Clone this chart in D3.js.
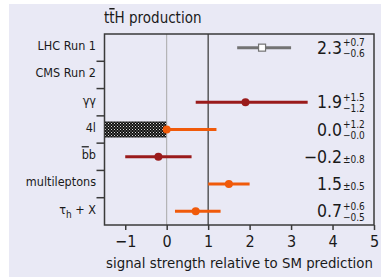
<html>
<head>
  <title>ttH production</title>
  <script src="https://d3js.org/d3.v7.min.js"></script>
  <style>
    body { margin: 0; background: white; }
    text { font-family: "DejaVu Sans Condensed", "DejaVu Sans", sans-serif; font-stretch: condensed; fill: #1a1a1a; }
    .ovl { text-decoration: overline; }
  </style>
</head>
<body>
  <svg id="screen"></svg>
  <script>
    // categories down the y axis
    const categories = ['LHC Run 1', 'CMS Run 2', 'γγ', '4l', 'bb', 'multileptons', 'τh + X']
    // measured signal strength and asymmetric errors (null = header row)
    const values   = [2.3, null, 1.9, 0.0, -0.2, 1.5, 0.7]
    const errUp    = [0.7, null, 1.5, 1.2, 0.8, 0.5, 0.6]
    const errDown  = [0.6, null, 1.2, 0.0, 0.8, 0.5, 0.5]
    const kinds    = ['run1', 'none', 'red', 'orange', 'red', 'orange', 'orange']
    // labels printed on the right
    const mainLabels = ['2.3', '', '1.9', '0.0', '−0.2', '1.5', '0.7']
    const upLabels   = ['+0.7', '', '+1.5', '+1.2', '', '', '+0.6']
    const downLabels = ['−0.6', '', '−1.2', '−0.0', '', '', '−0.5']
    const symLabels  = ['', '', '', '', '±0.8', '±0.5', '']
    // excluded (hatched) region for the 4l channel
    const hatchRange = [-1.5, 0]
    const xTicks = [-1, 0, 1, 2, 3, 4, 5]

    const colors = {run1: '#737373', red: '#9a1b1b', orange: '#f05a0a'}

    const svg = d3.select('#screen').attr('width', 381).attr('height', 277)
    svg.append('rect').attr('x', 9).attr('y', 4).attr('width', 372).attr('height', 273)
       .attr('fill', '#e9e9f5')

    const x = d3.scaleLinear().domain([-1.5, 5]).range([104.5, 374])
    const y = d3.scaleBand().domain(categories).range([34, 225])
    const yc = d => y(d) + y.bandwidth() / 2

    // hatch pattern
    const pat = svg.append('defs').append('pattern').attr('id', 'hatch')
       .attr('patternUnits', 'userSpaceOnUse').attr('width', 3).attr('height', 3)
    pat.append('rect').attr('width', 3).attr('height', 3).attr('fill', '#111')
    pat.append('rect').attr('x', 0).attr('y', 0).attr('width', 1).attr('height', 1).attr('fill', '#ddd')
    pat.append('rect').attr('x', 1.5).attr('y', 1.5).attr('width', 1).attr('height', 1).attr('fill', '#bbb')

    svg.append('rect')
       .attr('x', x(hatchRange[0])).attr('width', x(hatchRange[1]) - x(hatchRange[0]))
       .attr('y', yc('4l') - 8).attr('height', 16)
       .attr('fill', 'url(#hatch)')

    // reference lines
    svg.append('line').attr('x1', x(0)).attr('x2', x(0)).attr('y1', 34).attr('y2', 225)
       .attr('stroke', '#a8a8a8').attr('stroke-width', 1)
    svg.append('line').attr('x1', x(1)).attr('x2', x(1)).attr('y1', 34).attr('y2', 225)
       .attr('stroke', '#333').attr('stroke-width', 1.2)

    // frame
    svg.append('rect').attr('x', 104.5).attr('y', 34).attr('width', 269.5).attr('height', 191)
       .attr('fill', 'none').attr('stroke', '#3a3a3a').attr('stroke-width', 1.5)

    // category separator ticks
    svg.selectAll('.sep').data(categories.slice(1)).enter().append('line')
       .attr('x1', 96.5).attr('x2', 104.5)
       .attr('y1', d => y(d)).attr('y2', d => y(d))
       .attr('stroke', '#3a3a3a').attr('stroke-width', 1.5)

    // x axis
    const xAxis = svg.append('g').attr('transform', 'translate(0,225)')
       .call(d3.axisBottom(x).tickValues(xTicks).tickFormat(d3.format('d')).tickSize(5).tickSizeOuter(0))
    xAxis.select('.domain').remove()
    xAxis.selectAll('line').attr('stroke', '#3a3a3a').attr('stroke-width', 1.5)
    xAxis.selectAll('text').attr('font-size', 16).attr('dy', '0.9em')
       .style('font-family', '"DejaVu Sans Condensed", "DejaVu Sans", sans-serif')
       .attr('fill', '#1a1a1a')

    svg.append('text').attr('x', 239.5).attr('y', 268).attr('text-anchor', 'middle')
       .attr('font-size', 14.8).text('signal strength relative to SM prediction')

    // title
    const title = svg.append('text').attr('x', 104).attr('y', 23).attr('font-size', 15)
    title.append('tspan').text('t')
    title.append('tspan').attr('class', 'ovl').text('t')
    title.append('tspan').text('H production')

    // y labels
    const labels = svg.selectAll('.ylab').data(categories).enter().append('text')
       .attr('x', 96).attr('y', d => yc(d) - 2).attr('dy', '0.35em')
       .attr('text-anchor', 'end').attr('font-size', 12.5)
    labels.each(function(d) {
      const t = d3.select(this)
      if (d === 'bb') {
        t.append('tspan').attr('class', 'ovl').text('b')
        t.append('tspan').text('b')
      } else if (d === 'τh + X') {
        t.append('tspan').text('τ')
        t.append('tspan').attr('font-size', 10).attr('dy', 4).text('h')
        t.append('tspan').attr('dy', -4).text(' + X')
      } else {
        t.text(d)
      }
    })

    // data rows
    const rows = categories.map((c, i) => ({c, v: values[i], up: errUp[i], dn: errDown[i], k: kinds[i]}))
       .filter(d => d.v !== null)

    svg.selectAll('.err').data(rows).enter().append('line')
       .attr('x1', d => x(d.v - d.dn)).attr('x2', d => x(d.v + d.up))
       .attr('y1', d => yc(d.c)).attr('y2', d => yc(d.c))
       .attr('stroke', d => colors[d.k]).attr('stroke-width', 3)

    svg.selectAll('.dot').data(rows.filter(d => d.k !== 'run1')).enter().append('circle')
       .attr('cx', d => x(d.v)).attr('cy', d => yc(d.c)).attr('r', 4)
       .attr('fill', d => colors[d.k])

    svg.selectAll('.sq').data(rows.filter(d => d.k === 'run1')).enter().append('rect')
       .attr('x', d => x(d.v) - 3.5).attr('y', d => yc(d.c) - 3.5)
       .attr('width', 7).attr('height', 7)
       .attr('fill', 'white').attr('stroke', colors.run1).attr('stroke-width', 1.2)

    // value labels
    categories.forEach((c, i) => {
      if (!mainLabels[i]) return
      const cy = yc(c)
      svg.append('text').attr('x', 342).attr('y', cy + 6).attr('text-anchor', 'end')
         .attr('font-size', 17.5).text(mainLabels[i])
      if (symLabels[i]) {
        svg.append('text').attr('x', 343).attr('y', cy + 6).attr('font-size', 10).text(symLabels[i])
      } else {
        svg.append('text').attr('x', 343).attr('y', cy - 1.5).attr('font-size', 10).text(upLabels[i])
        svg.append('text').attr('x', 343).attr('y', cy + 9.5).attr('font-size', 10).text(downLabels[i])
      }
    })
  </script>
</body>
</html>
